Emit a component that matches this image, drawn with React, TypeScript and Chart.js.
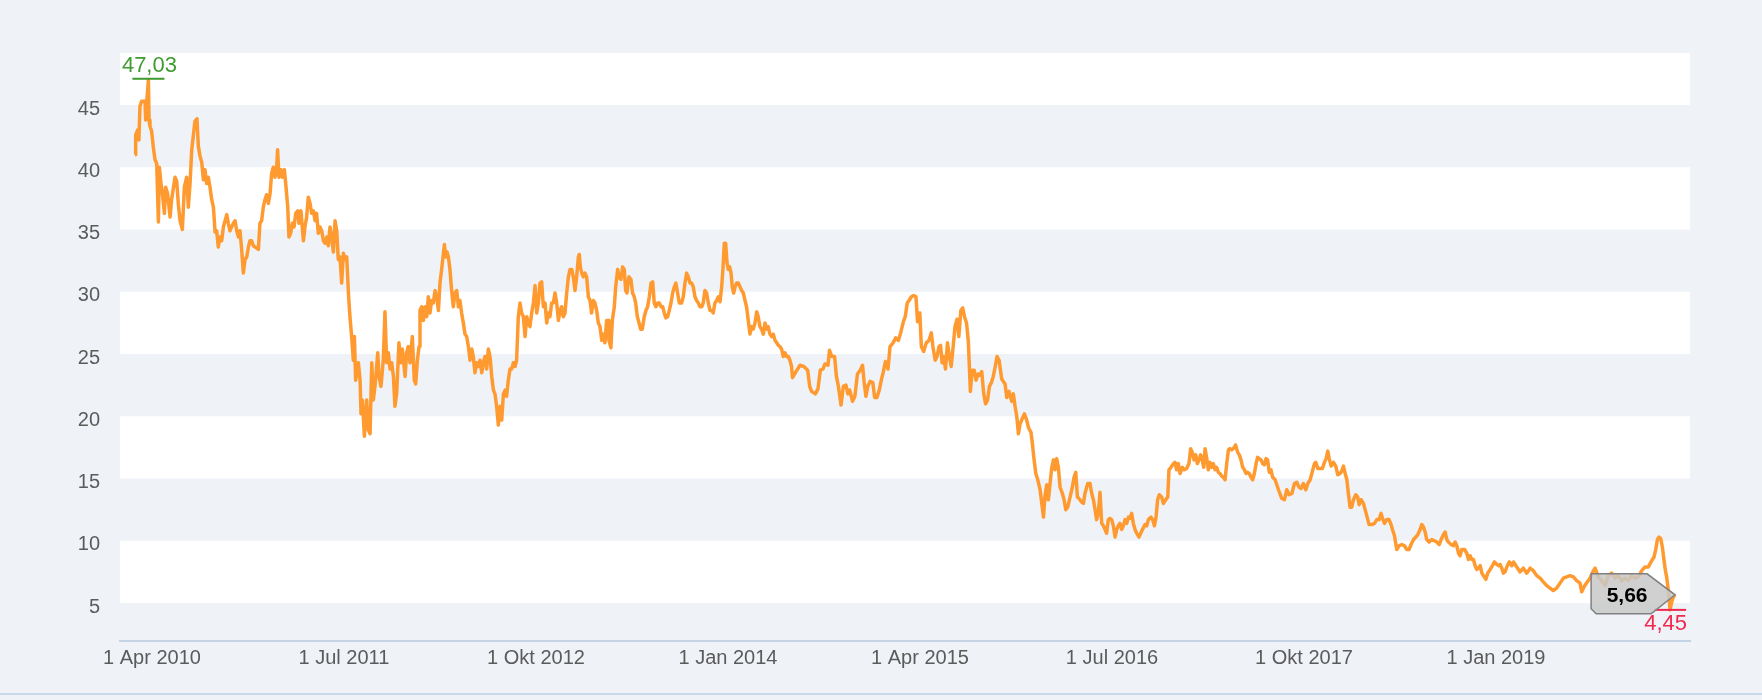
import React, { useEffect, useRef } from 'react';
import { Chart, registerables } from 'chart.js';

Chart.register(...registerables);

// ---- data (x = fractional year, y = price) ----
const years: number[] = [
  2010.140, 2010.144, 2010.157, 2010.165, 2010.172, 2010.183, 2010.205, 2010.209, 2010.216, 2010.227,
  2010.231, 2010.237, 2010.248, 2010.259, 2010.270, 2010.281, 2010.292, 2010.298, 2010.309, 2010.318,
  2010.331, 2010.339, 2010.352, 2010.368, 2010.378, 2010.400, 2010.411, 2010.422, 2010.433, 2010.448,
  2010.461, 2010.476, 2010.487, 2010.498, 2010.509, 2010.519, 2010.530, 2010.543, 2010.552, 2010.563,
  2010.574, 2010.585, 2010.595, 2010.606, 2010.617, 2010.628, 2010.639, 2010.650, 2010.661, 2010.671,
  2010.682, 2010.693, 2010.704, 2010.715, 2010.737, 2010.747, 2010.758, 2010.769, 2010.780, 2010.791,
  2010.802, 2010.813, 2010.823, 2010.834, 2010.845, 2010.856, 2010.867, 2010.878, 2010.888, 2010.899,
  2010.910, 2010.932, 2010.943, 2010.953, 2010.964, 2010.975, 2010.986, 2010.997,
  2011.008, 2011.019, 2011.029, 2011.040, 2011.051, 2011.062, 2011.068, 2011.077, 2011.090, 2011.099,
  2011.112, 2011.123, 2011.134, 2011.142, 2011.153, 2011.164, 2011.175, 2011.186, 2011.199, 2011.207,
  2011.220, 2011.236, 2011.246, 2011.257, 2011.268, 2011.279, 2011.290, 2011.301, 2011.312, 2011.322,
  2011.333, 2011.344, 2011.355, 2011.366, 2011.377, 2011.388, 2011.398, 2011.409, 2011.420, 2011.431,
  2011.442, 2011.453, 2011.463, 2011.474, 2011.485, 2011.496, 2011.507, 2011.518, 2011.529, 2011.539,
  2011.550, 2011.561, 2011.568, 2011.576, 2011.594, 2011.605, 2011.611, 2011.620, 2011.633, 2011.648,
  2011.659, 2011.670, 2011.681, 2011.691, 2011.702, 2011.720, 2011.728, 2011.741, 2011.756, 2011.767,
  2011.778, 2011.789, 2011.800, 2011.811, 2011.822, 2011.832, 2011.843, 2011.858, 2011.871, 2011.880,
  2011.898, 2011.908, 2011.919, 2011.930, 2011.945, 2011.958, 2011.967, 2011.978, 2011.989, 2011.995,
  2012.006, 2012.017, 2012.028, 2012.039, 2012.049, 2012.060, 2012.071, 2012.082, 2012.093, 2012.104,
  2012.115, 2012.125, 2012.136, 2012.145, 2012.154, 2012.162, 2012.171, 2012.180, 2012.190, 2012.201,
  2012.212, 2012.223, 2012.234, 2012.245, 2012.255, 2012.266, 2012.277, 2012.288, 2012.299, 2012.310,
  2012.321, 2012.332, 2012.342, 2012.353, 2012.364, 2012.375, 2012.386, 2012.397, 2012.407, 2012.418,
  2012.429, 2012.440, 2012.451, 2012.462, 2012.473, 2012.483, 2012.494, 2012.505, 2012.516, 2012.527,
  2012.538, 2012.549, 2012.559, 2012.570, 2012.581, 2012.592, 2012.603, 2012.614, 2012.624, 2012.635,
  2012.646, 2012.657, 2012.668, 2012.679, 2012.690, 2012.700, 2012.711, 2012.722, 2012.733, 2012.744,
  2012.755, 2012.766, 2012.776, 2012.787, 2012.798, 2012.809, 2012.820, 2012.831, 2012.841, 2012.852,
  2012.863, 2012.874, 2012.885, 2012.896, 2012.907, 2012.917, 2012.928, 2012.939, 2012.950, 2012.961,
  2012.972, 2012.983, 2012.993, 2013.004, 2013.015, 2013.026, 2013.032, 2013.039, 2013.048, 2013.058,
  2013.069, 2013.080, 2013.091, 2013.102, 2013.112, 2013.123, 2013.134, 2013.145, 2013.156, 2013.167,
  2013.178, 2013.188, 2013.199, 2013.210, 2013.221, 2013.225, 2013.238, 2013.247, 2013.260, 2013.269,
  2013.282, 2013.290, 2013.303, 2013.314, 2013.325, 2013.334, 2013.342, 2013.355, 2013.368, 2013.379,
  2013.390, 2013.399, 2013.410, 2013.421, 2013.431, 2013.442, 2013.455, 2013.466, 2013.477, 2013.488,
  2013.499, 2013.510, 2013.520, 2013.531, 2013.542, 2013.553, 2013.564, 2013.575, 2013.585, 2013.596,
  2013.607, 2013.618, 2013.629, 2013.640, 2013.651, 2013.661, 2013.672, 2013.683, 2013.698, 2013.709,
  2013.720, 2013.731, 2013.742, 2013.753, 2013.763, 2013.774, 2013.785, 2013.796, 2013.807, 2013.818,
  2013.829, 2013.839, 2013.850, 2013.861, 2013.872, 2013.883, 2013.894, 2013.904, 2013.915, 2013.926,
  2013.937, 2013.948, 2013.959, 2013.967, 2013.976, 2013.985, 2013.994,
  2014.002, 2014.011, 2014.020, 2014.028, 2014.037, 2014.046, 2014.056, 2014.067, 2014.078, 2014.089,
  2014.100, 2014.111, 2014.121, 2014.132, 2014.143, 2014.154, 2014.165, 2014.176, 2014.187, 2014.197,
  2014.208, 2014.219, 2014.230, 2014.241, 2014.252, 2014.262, 2014.273, 2014.284, 2014.295, 2014.306,
  2014.317, 2014.328, 2014.338, 2014.349, 2014.360, 2014.371, 2014.382, 2014.393, 2014.403, 2014.414,
  2014.420, 2014.444, 2014.469, 2014.494, 2014.519, 2014.532, 2014.544, 2014.569, 2014.586, 2014.601,
  2014.619, 2014.631, 2014.651, 2014.661, 2014.676, 2014.694, 2014.706, 2014.719, 2014.736, 2014.751,
  2014.768, 2014.781, 2014.793, 2014.811, 2014.826, 2014.843, 2014.861, 2014.876, 2014.886, 2014.898,
  2014.910, 2014.925, 2014.943, 2014.955, 2014.970, 2014.985,
  2015.000, 2015.012, 2015.025, 2015.042, 2015.055, 2015.075, 2015.092, 2015.110, 2015.124, 2015.142,
  2015.154, 2015.167, 2015.179, 2015.194, 2015.209, 2015.224, 2015.234, 2015.249, 2015.259, 2015.274,
  2015.291, 2015.309, 2015.324, 2015.334, 2015.349, 2015.361, 2015.374, 2015.384, 2015.394, 2015.404,
  2015.416, 2015.429, 2015.441, 2015.453, 2015.466, 2015.478, 2015.491, 2015.503, 2015.516, 2015.528,
  2015.540, 2015.553, 2015.565, 2015.578, 2015.590, 2015.603, 2015.615, 2015.628, 2015.640, 2015.652,
  2015.665, 2015.677, 2015.690, 2015.702, 2015.715, 2015.727, 2015.740, 2015.752, 2015.765, 2015.782,
  2015.804, 2015.815, 2015.830, 2015.847, 2015.858, 2015.869, 2015.880, 2015.891, 2015.902, 2015.912,
  2015.930, 2015.945, 2015.956, 2015.973, 2015.982, 2015.991,
  2016.004, 2016.017, 2016.032, 2016.043, 2016.054, 2016.064, 2016.075, 2016.086, 2016.097, 2016.108,
  2016.119, 2016.129, 2016.140, 2016.151, 2016.162, 2016.177, 2016.188, 2016.199, 2016.212, 2016.227,
  2016.242, 2016.253, 2016.264, 2016.275, 2016.285, 2016.303, 2016.314, 2016.324, 2016.342, 2016.357,
  2016.368, 2016.379, 2016.390, 2016.400, 2016.411, 2016.422, 2016.433, 2016.444, 2016.455, 2016.465,
  2016.476, 2016.487, 2016.498, 2016.509, 2016.520, 2016.531, 2016.541, 2016.552, 2016.563, 2016.574,
  2016.585, 2016.596, 2016.607, 2016.617, 2016.628, 2016.639, 2016.650, 2016.661, 2016.676, 2016.687,
  2016.698, 2016.715, 2016.726, 2016.737, 2016.754, 2016.765, 2016.776, 2016.787, 2016.797, 2016.808,
  2016.824, 2016.834, 2016.850, 2016.863, 2016.871, 2016.884, 2016.900, 2016.910, 2016.921, 2016.932,
  2016.943, 2016.958, 2016.971, 2016.986,
  2017.001, 2017.012, 2017.023, 2017.034, 2017.045, 2017.056, 2017.067, 2017.077, 2017.088, 2017.097,
  2017.106, 2017.117, 2017.127, 2017.138, 2017.149, 2017.160, 2017.171, 2017.182, 2017.192, 2017.203,
  2017.214, 2017.225, 2017.236, 2017.247, 2017.258, 2017.268, 2017.279, 2017.290, 2017.305, 2017.318,
  2017.329, 2017.340, 2017.351, 2017.362, 2017.373, 2017.383, 2017.394, 2017.405, 2017.416, 2017.427,
  2017.438, 2017.448, 2017.459, 2017.470, 2017.481, 2017.492, 2017.503, 2017.513, 2017.524, 2017.535,
  2017.546, 2017.562, 2017.584, 2017.605, 2017.623, 2017.638, 2017.653, 2017.671, 2017.688, 2017.703,
  2017.718, 2017.731, 2017.746, 2017.762, 2017.775, 2017.790, 2017.801, 2017.818, 2017.827, 2017.840,
  2017.855, 2017.870, 2017.883, 2017.894, 2017.905, 2017.914, 2017.927, 2017.942, 2017.957, 2017.970,
  2017.985, 2017.996,
  2018.007, 2018.018, 2018.029, 2018.039, 2018.050, 2018.061, 2018.072, 2018.087, 2018.100, 2018.109,
  2018.122, 2018.137, 2018.148, 2018.159, 2018.174, 2018.191, 2018.209, 2018.224, 2018.239, 2018.252,
  2018.261, 2018.274, 2018.289, 2018.304, 2018.317, 2018.326, 2018.339, 2018.354, 2018.369, 2018.387,
  2018.404, 2018.419, 2018.434, 2018.447, 2018.463, 2018.478, 2018.491, 2018.506, 2018.517, 2018.528,
  2018.539, 2018.549, 2018.565, 2018.582, 2018.599, 2018.614, 2018.630, 2018.643, 2018.658, 2018.669,
  2018.680, 2018.690, 2018.708, 2018.723, 2018.734, 2018.745, 2018.756, 2018.766, 2018.777, 2018.795,
  2018.810, 2018.821, 2018.832, 2018.842, 2018.853, 2018.864, 2018.875, 2018.886, 2018.897, 2018.908,
  2018.918, 2018.934, 2018.946, 2018.962, 2018.977, 2018.990,
  2019.005, 2019.016, 2019.027, 2019.038, 2019.048, 2019.059, 2019.074, 2019.087, 2019.103, 2019.114,
  2019.135, 2019.157, 2019.178, 2019.200, 2019.222, 2019.243, 2019.265, 2019.287, 2019.308, 2019.330,
  2019.352, 2019.373, 2019.395, 2019.417, 2019.439, 2019.460, 2019.482, 2019.504, 2019.525, 2019.547,
  2019.558, 2019.573, 2019.590, 2019.612, 2019.634, 2019.645, 2019.666, 2019.688, 2019.710, 2019.731,
  2019.753, 2019.775, 2019.797, 2019.818, 2019.840, 2019.862, 2019.883, 2019.905, 2019.927, 2019.949,
  2019.970, 2019.992,
  2020.014, 2020.029, 2020.040, 2020.051, 2020.061, 2020.072, 2020.083, 2020.094, 2020.103, 2020.111,
  2020.122, 2020.133, 2020.144, 2020.155, 2020.166,
];

const prices: number[] = [
  41.0, 42.6, 43.0, 42.2, 44.9, 45.3, 45.3, 43.8, 45.2, 47.03,
  43.8, 43.3, 42.9, 41.6, 40.6, 40.3, 35.6, 40.0, 38.7, 37.9,
  36.3, 38.4, 37.9, 36.0, 37.4, 39.2, 38.9, 37.0, 35.7, 35.0,
  38.4, 39.2, 36.8, 38.7, 41.4, 42.5, 43.7, 43.9, 41.7, 40.9,
  40.4, 39.0, 39.8, 38.7, 39.2, 38.4, 37.4, 36.8, 34.8, 34.9,
  33.6, 34.4, 34.1, 35.2, 36.2, 35.5, 34.9, 35.2, 35.5, 35.7,
  34.9, 34.4, 34.9, 33.4, 31.5, 32.6, 32.8, 33.6, 34.1, 34.1,
  33.7, 33.5, 33.4, 35.5, 35.7, 36.8, 37.4, 37.8,
  37.1, 37.9, 39.5, 40.0, 39.2, 40.0, 41.4, 39.2, 39.8, 39.2,
  39.8, 38.4, 36.8, 34.4, 34.7, 35.5, 35.2, 36.3, 36.5, 35.5,
  36.5, 34.1, 35.2, 36.0, 37.6, 37.1, 36.3, 36.5, 35.7, 36.3,
  34.7, 35.2, 34.9, 34.1, 33.9, 34.4, 33.7, 35.2, 34.4, 33.2,
  35.7, 34.9, 32.6, 32.8, 30.7, 33.1, 32.6, 32.8, 29.9, 28.0,
  26.4, 24.5, 26.4, 22.9, 24.3, 22.9, 20.2, 21.3, 18.4, 21.3,
  18.9, 18.6, 24.3, 21.3, 22.4, 25.1, 23.2, 22.4, 24.5, 28.4,
  24.3, 25.1, 23.8, 24.3, 23.2, 20.8, 21.8, 25.9, 24.3, 25.4,
  23.2, 25.1, 25.6, 24.3, 26.4, 22.9, 22.6, 24.5, 25.6, 28.5,
  28.8, 27.7, 28.8, 28.0, 29.6, 28.3, 29.3, 29.1, 30.1, 29.6,
  28.5, 30.7, 31.8, 32.8, 33.8, 32.8, 33.2, 32.8, 31.8, 30.1,
  28.8, 29.9, 30.1, 28.8, 29.3, 28.3, 27.5, 26.6, 26.4, 25.6,
  24.5, 25.4, 24.8, 23.5, 24.3, 24.0, 24.5, 23.5, 24.3, 24.8,
  23.8, 25.4, 24.8, 23.2, 22.1, 21.8, 20.8, 19.3, 20.8, 19.7,
  21.8, 22.1, 21.6, 22.9, 23.8, 23.8, 24.3, 24.0, 24.5, 28.0,
  29.1, 28.3, 28.0, 26.4, 28.0, 27.5, 27.2, 28.3, 29.1, 30.5,
  28.3, 29.1, 30.7, 30.8, 28.8, 29.1, 27.5, 28.3, 28.0, 29.1,
  29.1, 29.9, 29.1, 27.7, 28.5, 28.8, 28.0, 28.3, 29.9, 31.2,
  31.8, 31.8, 31.2, 30.1, 31.2, 32.8, 33.0, 32.0, 31.5, 31.2,
  31.5, 31.2, 29.6, 29.3, 28.3, 29.3, 29.1, 28.5, 27.5, 27.2,
  26.1, 26.6, 25.9, 27.7, 27.7, 26.1, 25.5, 27.7, 28.8, 30.4,
  31.8, 31.2, 31.0, 32.0, 31.8, 30.1, 29.9, 31.2, 31.0, 29.9,
  29.6, 29.1, 28.0, 27.5, 27.0, 27.0, 28.0, 28.5, 28.8, 29.6,
  30.7, 30.8, 29.1, 28.8, 29.1, 29.1, 28.8, 28.8, 28.3, 27.9,
  28.0, 28.5, 29.1, 29.9, 30.4, 30.7, 29.9, 29.1, 29.1, 29.6,
  30.7, 31.5, 31.2, 30.7, 30.7, 30.4, 29.6, 29.3, 29.1, 28.8,
  28.8, 29.1, 30.1, 29.9, 29.1, 28.5, 28.5, 28.3, 29.1, 29.3,
  29.6, 29.2, 30.4, 31.8, 33.9, 33.9, 32.3,
  31.8, 32.0, 31.5, 30.4, 29.9, 30.4, 30.7, 30.7, 30.4, 30.1,
  29.9, 29.3, 28.8, 27.7, 26.6, 27.2, 27.0, 27.5, 28.4, 28.0,
  27.2, 27.0, 26.6, 27.5, 27.0, 27.2, 26.6, 26.4, 26.6, 26.1,
  25.9, 25.7, 25.6, 25.4, 24.8, 25.1, 24.8, 24.8, 24.5, 24.0,
  23.1, 23.6, 24.1, 24.0, 23.7, 22.4, 22.0, 21.8, 22.2, 23.7,
  23.8, 24.2, 24.1, 25.3, 24.8, 24.8, 23.2, 22.4, 20.9, 22.4,
  22.5, 21.8, 22.1, 21.2, 21.6, 23.4, 23.7, 24.1, 22.8, 21.6,
  22.4, 22.8, 22.7, 21.5, 21.5, 22.1,
  23.0, 23.6, 24.4, 23.8, 25.6, 25.9, 26.3, 26.1, 26.7, 27.6,
  28.0, 29.1, 29.3, 29.6, 29.7, 29.6, 27.6, 28.3, 25.6, 25.2,
  25.9, 26.1, 26.7, 25.6, 24.5, 24.8, 25.6, 25.7, 24.3, 24.8,
  23.8, 25.9, 24.8, 24.0, 25.6, 27.2, 27.8, 26.4, 28.5, 28.7,
  28.0, 27.5, 26.0, 22.0, 23.7, 23.7, 22.9, 23.4, 23.3, 23.6,
  21.8, 21.0, 21.3, 22.4, 22.7, 23.2, 24.0, 24.8, 24.5, 23.0,
  22.6, 21.5, 22.0, 21.2, 21.8, 20.8, 20.0, 18.6, 19.4, 19.7,
  20.2, 19.7, 19.1, 18.7, 17.8, 16.7,
  15.4, 14.9, 14.1, 13.0, 11.9, 13.6, 14.5, 13.3, 14.6, 15.9,
  16.5, 15.7, 16.6, 15.9, 14.3, 13.8, 13.3, 12.5, 12.7, 13.5,
  14.3, 15.1, 15.5, 13.5, 13.4, 13.1, 13.0, 13.8, 14.6, 14.6,
  13.8, 13.3, 12.5, 11.7, 12.2, 13.9, 11.4, 11.2, 10.9, 10.6,
  11.7, 11.8, 11.7, 11.2, 10.3, 10.9, 11.2, 11.4, 10.9, 11.2,
  11.7, 11.4, 11.9, 11.8, 12.2, 11.4, 10.9, 10.6, 10.3, 10.6,
  10.9, 11.3, 11.2, 11.7, 11.9, 11.7, 11.2, 11.9, 13.3, 13.7,
  13.5, 13.0, 13.3, 13.5, 15.7, 15.9, 16.2, 16.3, 15.7, 16.2,
  15.4, 15.9, 15.7, 15.8,
  16.2, 17.4, 17.1, 16.5, 16.9, 16.2, 16.5, 16.9, 16.5, 15.9,
  17.4, 16.6, 15.7, 16.3, 15.9, 16.2, 15.7, 15.9, 15.5, 15.4,
  15.2, 15.1, 14.9, 16.2, 17.3, 17.4, 17.3, 17.4, 17.7, 17.1,
  16.9, 16.5, 15.9, 15.7, 15.4, 15.5, 15.4, 15.1, 14.9, 15.4,
  16.2, 16.7, 16.6, 16.5, 16.2, 16.1, 16.6, 16.5, 15.5, 15.7,
  15.1, 14.9, 14.1, 13.4, 13.3, 14.1, 13.7, 13.8, 14.6, 14.7,
  14.3, 14.2, 14.6, 14.1, 14.6, 14.9, 15.4, 16.2, 16.3, 15.8,
  15.8, 15.8, 16.3, 16.6, 17.2, 16.6, 16.0, 16.3, 16.0, 15.3,
  15.4, 15.6,
  16.0, 15.4, 14.9, 13.8, 12.7, 12.7, 13.3, 13.7, 13.5, 12.9,
  13.3, 13.0, 12.5, 12.0, 11.3, 11.3, 11.4, 11.7, 11.7, 12.2,
  11.8, 11.4, 11.7, 11.7, 11.3, 10.9, 10.4, 9.3, 9.6, 9.7,
  9.6, 9.3, 9.3, 9.7, 10.1, 10.3, 10.5, 10.9, 11.3, 11.1,
  10.7, 10.1, 9.9, 10.1, 10.0, 9.9, 9.7, 10.1, 10.5, 10.7,
  10.1, 9.9, 9.7, 9.6, 9.9, 9.6, 9.0, 8.8, 9.3, 9.3,
  9.0, 8.5, 8.8, 8.5, 8.5, 8.0, 7.7, 7.8, 8.0, 7.4,
  7.2, 6.9, 7.4, 7.7, 8.0, 8.3,
  8.1, 8.0, 8.1, 7.8, 7.4, 7.5, 8.0, 8.3, 8.0, 8.3,
  7.9, 7.5, 7.8, 7.4, 7.8, 7.6, 7.2, 7.0, 6.7, 6.4,
  6.2, 6.0, 6.2, 6.6, 7.0, 7.1, 7.2, 7.1, 6.8, 6.6,
  5.9, 6.3, 6.6, 7.0, 7.6, 7.8, 7.1, 6.8, 6.4, 7.2,
  7.4, 7.0, 7.2, 6.8, 7.0, 6.8, 7.2, 7.0, 7.1, 7.6,
  7.9, 7.9,
  8.4, 8.7, 9.3, 10.1, 10.3, 10.2, 9.5, 8.4, 7.6, 7.1,
  6.0, 4.45, 5.1, 5.5, 5.66,
];

const yTicks: number[] = [5, 10, 15, 20, 25, 30, 35, 40, 45];
const yRange: number[] = [1.95, 49.18];
const xRange: number[] = [2010.042, 2020.263];
const xTickValues: number[] = [2010.25, 2011.5, 2012.75, 2014, 2015.25, 2016.5, 2017.75, 2019];
const xTickLabels: string[] = [
  '1 Apr 2010', '1 Jul 2011', '1 Okt 2012', '1 Jan 2014',
  '1 Apr 2015', '1 Jul 2016', '1 Okt 2017', '1 Jan 2019',
];

const FONT = '"Liberation Sans", Arial, Helvetica, sans-serif';
const fmt = (v: number) => v.toFixed(2).replace('.', ',');

const bandsPlugin = {
  id: 'bands',
  beforeDraw(chart: any) {
    const { ctx, chartArea: a, scales } = chart;
    const y = scales.y;
    const step = yTicks[1] - yTicks[0];
    ctx.save();
    ctx.fillStyle = '#ffffff';
    for (let i = 0; i < yTicks.length; i += 2) {
      const lo = yTicks[i];
      const top = Math.max(a.top, y.getPixelForValue(lo + step));
      const bot = Math.min(a.bottom, y.getPixelForValue(lo));
      ctx.fillRect(a.left, top, a.right - a.left, bot - top);
    }
    ctx.restore();
  },
};

const flagsPlugin = {
  id: 'flags',
  afterDatasetsDraw(chart: any) {
    const { ctx, chartArea: a, scales } = chart;
    const xs = scales.x;
    const ys = scales.y;
    let iMax = 0;
    let iMin = 0;
    prices.forEach((p, i) => {
      if (p > prices[iMax]) iMax = i;
      if (p < prices[iMin]) iMin = i;
    });
    ctx.save();
    // max label
    {
      const px = xs.getPixelForValue(years[iMax]);
      const py = ys.getPixelForValue(prices[iMax]);
      ctx.fillStyle = '#3f9b2f';
      ctx.fillRect(px - 16, py - 2, 32, 2);
      ctx.font = `22px ${FONT}`;
      ctx.textAlign = 'center';
      ctx.textBaseline = 'alphabetic';
      ctx.fillText(fmt(prices[iMax]), px + 1, py - 8);
    }
    // min label
    {
      const px = xs.getPixelForValue(years[iMin]);
      const py = ys.getPixelForValue(prices[iMin]);
      ctx.fillStyle = '#f2284f';
      ctx.fillRect(px - 16, py - 1, 32, 2);
      ctx.font = `22px ${FONT}`;
      const txt = fmt(prices[iMin]);
      const w = ctx.measureText(txt).width;
      let cx = px;
      if (cx + w / 2 > a.right - 3) cx = a.right - 3 - w / 2;
      ctx.textAlign = 'center';
      ctx.textBaseline = 'alphabetic';
      ctx.fillText(txt, cx, py + 20);
    }
    // last value callout
    {
      const li = prices.length - 1;
      const px = xs.getPixelForValue(years[li]);
      const py = ys.getPixelForValue(prices[li]);
      const L = px - 84;
      const R = px - 28;
      const T = py - 21;
      const B = py + 19;
      ctx.beginPath();
      ctx.moveTo(L, T);
      ctx.lineTo(R, T);
      ctx.lineTo(px, py);
      ctx.lineTo(R + 4, B);
      ctx.lineTo(L + 5, B);
      ctx.lineTo(L, B - 5);
      ctx.closePath();
      ctx.fillStyle = 'rgba(200,200,200,0.85)';
      ctx.fill();
      ctx.lineWidth = 1.5;
      ctx.strokeStyle = '#808080';
      ctx.stroke();
      ctx.fillStyle = '#000000';
      ctx.font = `bold 21px ${FONT}`;
      ctx.textAlign = 'center';
      ctx.textBaseline = 'alphabetic';
      ctx.fillText(fmt(prices[li]), px - 48, py + 7);
    }
    ctx.restore();
  },
};

export default function App() {
  const canvasRef = useRef<HTMLCanvasElement | null>(null);

  useEffect(() => {
    const canvas = canvasRef.current;
    if (!canvas) return;
    const chart = new Chart(canvas, {
      type: 'line',
      data: {
        datasets: [
          {
            data: years.map((x, i) => ({ x, y: prices[i] })),
            borderColor: '#ff9a30',
            borderWidth: 3.5,
            pointRadius: 0,
            tension: 0,
            borderJoinStyle: 'round',
            fill: false,
          },
        ],
      },
      options: {
        responsive: false,
        animation: false,
        events: [],
        layout: { padding: { top: 53, right: 72, left: 0, bottom: 0 } },
        plugins: {
          legend: { display: false },
          tooltip: { enabled: false },
        },
        scales: {
          x: {
            type: 'linear',
            min: xRange[0],
            max: xRange[1],
            afterFit: (s: any) => { s.height = 59; },
            afterBuildTicks: (s: any) => { s.ticks = xTickValues.map((value) => ({ value })); },
            grid: { display: false, drawTicks: false },
            border: { display: true, color: '#c3d3e3', width: 2 },
            ticks: {
              autoSkip: false,
              maxRotation: 0,
              minRotation: 0,
              padding: 5,
              color: '#5b5b5b',
              font: { size: 20, family: FONT },
              callback: (_v: any, i: number) => xTickLabels[i],
            },
          },
          y: {
            type: 'linear',
            min: yRange[0],
            max: yRange[1],
            afterFit: (s: any) => { s.width = 120; },
            afterBuildTicks: (s: any) => { s.ticks = yTicks.map((value) => ({ value })); },
            grid: { display: false, drawTicks: false },
            border: { display: false },
            ticks: {
              padding: 20,
              labelOffset: 4,
              color: '#5b5b5b',
              font: { size: 20, family: FONT },
              callback: (v: any) => String(v),
            },
          },
        },
      },
      plugins: [bandsPlugin, flagsPlugin],
    });
    return () => chart.destroy();
  }, []);

  return (
    <div
      style={{
        position: 'absolute',
        left: 0,
        top: 0,
        width: 1762,
        height: 700,
        background: '#eff3f8',
        overflow: 'hidden',
      }}
    >
      <canvas ref={canvasRef} width={1762} height={700} style={{ display: 'block' }} />
      <div
        style={{
          position: 'absolute',
          left: 0,
          top: 693,
          width: 1762,
          height: 2,
          background: '#c8d8e8',
        }}
      />
    </div>
  );
}
